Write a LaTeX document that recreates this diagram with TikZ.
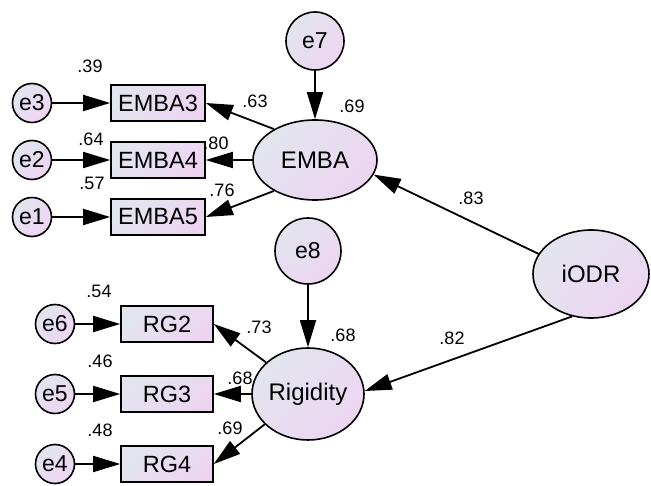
\documentclass[tikz,border=0pt]{standalone}
\usepackage{fontspec}
\setmainfont{Liberation Sans}
\usetikzlibrary{shapes.geometric,arrows.meta}
\definecolor{fillA}{RGB}{226,229,238}
\definecolor{fillB}{RGB}{237,213,242}
\tikzset{
  base/.style={draw=black, line width=1.6pt, left color=fillA, right color=fillB, shading angle=45},
  latent/.style={base, ellipse, inner sep=0pt, font={\fontsize{24pt}{24pt}\selectfont}},
  errc/.style={base, circle, inner sep=0pt, font={\fontsize{23pt}{23pt}\selectfont}},
  obsbox/.style={base, rectangle, inner sep=0pt, minimum height=36pt, font={\fontsize{23.5pt}{23.5pt}\selectfont}},
  coef/.style={inner sep=0pt, font={\fontsize{18pt}{18pt}\selectfont}},
  regpath/.style={line width=1.8pt, -{Triangle[length=27pt,width=16pt]}}
}
\begin{document}
\begin{tikzpicture}[x=1pt, y=-1pt]
\useasboundingbox (0,0) rectangle (651,486);

% path coefficients and squared multiple correlations
\node[coef] (l39) at (90,66) {.39};
\node[coef] (l64) at (91,139) {.64};
\node[coef] (l57) at (92,183) {.57};
\node[coef] (l63) at (255,101) {.63};
\node[coef] (l80) at (216,143) {.80};
\node[coef] (l76) at (222,190) {.76};
\node[coef] (l69a) at (352,106) {.69};
\node[coef] (l83) at (471,198) {.83};
\node[coef] (l82) at (452,338) {.82};
\node[coef] (l68a) at (343,335) {.68};
\node[coef] (l73) at (259,327) {.73};
\node[coef] (l68b) at (240,378) {.68};
\node[coef] (l69b) at (230,428) {.69};
\node[coef] (l54) at (99,291) {.54};
\node[coef] (l46) at (100,361) {.46};
\node[coef] (l48) at (100,430) {.48};

% EMBA block
\node[errc, minimum size=58pt] (e7) at (315,41) {e7};
\node[latent, minimum width=124pt, minimum height=80pt] (emba) at (315,160) {EMBA};
\node[obsbox, minimum width=94pt] (b3) at (158,103) {EMBA3};
\node[obsbox, minimum width=94pt] (b4) at (158,160) {EMBA4};
\node[obsbox, minimum width=94pt] (b5) at (158,217) {EMBA5};
\node[errc, minimum size=39pt] (e3) at (32,103) {e3};
\node[errc, minimum size=39pt] (e2) at (32,160) {e2};
\node[errc, minimum size=39pt] (e1) at (32,217) {e1};

% Rigidity block
\node[errc, minimum size=66pt] (e8) at (308,251) {e8};
\node[latent, minimum width=112pt, minimum height=92pt] (rig) at (308,394) {Rigidity};
\node[obsbox, minimum width=92pt] (r2) at (167,324) {RG2};
\node[obsbox, minimum width=92pt] (r3) at (167,394) {RG3};
\node[obsbox, minimum width=92pt] (r4) at (167,464) {RG4};
\node[errc, minimum size=39pt] (e6) at (55,324) {e6};
\node[errc, minimum size=39pt] (e5) at (55,394) {e5};
\node[errc, minimum size=39pt] (e4) at (55,464) {e4};

% exogenous factor
\node[latent, minimum width=116pt, minimum height=88pt] (iodr) at (591,274) {iODR};

% paths
\draw[regpath] (e7) -- (emba);
\draw[regpath] (emba.143) -- (b3.east);
\draw[regpath] (emba) -- (b4);
\draw[regpath] (emba.217) -- (b5.east);
\draw[regpath] (e3) -- (b3);
\draw[regpath] (e2) -- (b4);
\draw[regpath] (e1) -- (b5);

\draw[regpath] (e8) -- (rig);
\draw[regpath] (rig.143) -- (r2.east);
\draw[regpath] (rig) -- (r3);
\draw[regpath] (rig.215) -- (r4.east);
\draw[regpath] (e6) -- (r2);
\draw[regpath] (e5) -- (r3);
\draw[regpath] (e4) -- (r4);

\draw[regpath] (iodr.159) -- (emba.-14);
\draw[regpath] (iodr.246) -- (rig.3);
\end{tikzpicture}
\end{document}
